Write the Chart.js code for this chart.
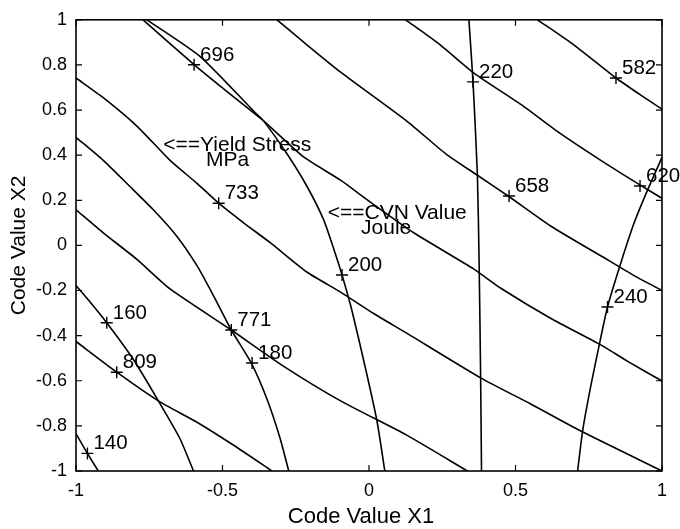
<!DOCTYPE html>
<html><head><meta charset="utf-8">
<script src="https://cdn.jsdelivr.net/npm/chart.js@4"></script>
<style>html,body{margin:0;padding:0;background:#fff}canvas{display:block}</style>
</head><body>
<canvas id="c" width="680" height="529"></canvas>
<script>
// ---- Yield stress contours (MPa), points as [X1, X2] ----
const yield582 = [[0.575,1],[0.700,0.888],[0.843,0.742],[0.930,0.664],[1,0.604]];
const yield620 = [[0.125,1],[0.244,0.888],[0.358,0.764],[0.518,0.625],[0.655,0.494],[0.791,0.377],[0.926,0.267],[1,0.209]];
const yield658 = [[-0.314,1],[-0.211,0.888],[-0.097,0.768],[0.130,0.55],[0.262,0.406],[0.370,0.311],[0.475,0.219],[0.621,0.085],[0.791,-0.046],[0.905,-0.134],[1,-0.2]];
const yield696 = [[-0.771,1],[-0.597,0.801],[-0.508,0.706],[-0.360,0.552],[-0.223,0.392],[-0.097,0.289],[-0.006,0.202],[0.153,0.056],[0.358,-0.105],[0.450,-0.19],[0.621,-0.324],[0.791,-0.441],[0.883,-0.514],[1,-0.601]];
const yield733 = [[-1,0.742],[-0.907,0.655],[-0.793,0.530],[-0.679,0.377],[-0.587,0.275],[-0.513,0.187],[-0.428,0.100],[-0.337,0.012],[-0.211,-0.119],[-0.097,-0.207],[0.016,-0.302],[0.130,-0.390],[0.381,-0.587],[0.552,-0.703],[0.723,-0.823],[1,-1]];
const yield771 = [[-1,0.158],[-0.907,0.056],[-0.793,-0.061],[-0.679,-0.193],[-0.470,-0.375],[-0.291,-0.536],[-0.097,-0.689],[0.130,-0.842],[0.336,-1]];
const yield809 = [[-1,-0.426],[-0.861,-0.562],[-0.719,-0.689],[-0.587,-0.784],[-0.462,-0.886],[-0.331,-1]];

// ---- CVN value contours (Joule) ----
const cvn140 = [[-1,-0.835],[-0.961,-0.922],[-0.924,-1]];
const cvn160 = [[-1,-0.178],[-0.952,-0.251],[-0.895,-0.343],[-0.804,-0.506],[-0.719,-0.689],[-0.645,-0.857],[-0.599,-1]];
const cvn180 = [[-1,0.479],[-0.907,0.377],[-0.815,0.260],[-0.736,0.158],[-0.656,0.041],[-0.587,-0.090],[-0.530,-0.225],[-0.470,-0.375],[-0.402,-0.521],[-0.348,-0.682],[-0.303,-0.857],[-0.274,-1]];
const cvn200 = [[-0.758,1],[-0.576,0.837],[-0.394,0.596],[-0.360,0.552],[-0.280,0.406],[-0.211,0.260],[-0.155,0.114],[-0.120,-0.017],[-0.092,-0.131],[-0.057,-0.295],[-0.006,-0.579],[0.028,-0.784],[0.054,-1]];
const cvn220 = [[0.341,1],[0.355,0.725],[0.370,0.311],[0.376,-0.09],[0.381,-0.587],[0.384,-1]];
const cvn240 = [[1,0.39],[0.951,0.246],[0.905,0.100],[0.860,-0.076],[0.814,-0.273],[0.786,-0.44],[0.757,-0.623],[0.729,-0.823],[0.712,-1]];

// ---- Contour labels ----
const labelText = ['582','620','658','696','733','771','809','140','160','180','200','220','240'];
const labelX = [0.843,0.925,0.478,-0.597,-0.513,-0.470,-0.861,-0.961,-0.895,-0.399,-0.092,0.355,0.814];
const labelY = [0.742,0.263,0.219,0.801,0.187,-0.375,-0.562,-0.922,-0.343,-0.521,-0.131,0.725,-0.273];

// ---- Annotation texts ----
const noteText = ['<==Yield Stress','MPa','<==CVN Value','Joule'];
const noteX = [-0.702,-0.556,-0.141,-0.027];
const noteY = [0.418,0.351,0.118,0.051];

// ---- Axes ----
const xTickValues = [-1,-0.5,0,0.5,1];
const xTickLabels = ['-1','-0.5','0','0.5','1'];
const yTickValues = [-1,-0.8,-0.6,-0.4,-0.2,0,0.2,0.4,0.6,0.8,1];
const yTickLabels = ['-1','-0.8','-0.6','-0.4','-0.2','0','0.2','0.4','0.6','0.8','1'];
const xTitle = 'Code Value X1';
const yTitle = 'Code Value X2';

const FONT = '"Liberation Sans", Arial, Helvetica, sans-serif';
const contours = [yield582,yield620,yield658,yield696,yield733,yield771,yield809,cvn140,cvn160,cvn180,cvn200,cvn220,cvn240];

const datasets = contours.map(c => ({
  data: c.map(p => ({x:p[0], y:p[1]})),
  showLine: true, borderColor: '#000', borderWidth: 1.6, pointRadius: 0,
  tension: 0.2, fill: false
}));
datasets.push({
  data: labelX.map((x,i) => ({x:x, y:labelY[i]})),
  showLine: false, pointStyle: 'cross', pointRadius: 6, borderColor: '#000',
  borderWidth: 1.4, backgroundColor: '#000'
});

const decor = {
  id: 'decor',
  beforeDraw(chart) {
    const ctx = chart.ctx;
    ctx.save(); ctx.fillStyle = '#fff'; ctx.fillRect(0,0,chart.width,chart.height); ctx.restore();
  },
  afterDraw(chart) {
    const ctx = chart.ctx, a = chart.chartArea, xs = chart.scales.x, ys = chart.scales.y;
    ctx.save();
    ctx.strokeStyle = '#000'; ctx.lineWidth = 1.6;
    ctx.strokeRect(a.left, a.top, a.right - a.left, a.bottom - a.top);
    ctx.lineWidth = 1.2;
    const TL = 6;
    ctx.beginPath();
    xTickValues.forEach(v => {
      const px = xs.getPixelForValue(v);
      ctx.moveTo(px, a.bottom); ctx.lineTo(px, a.bottom - TL);
      ctx.moveTo(px, a.top); ctx.lineTo(px, a.top + TL);
    });
    yTickValues.forEach(v => {
      const py = ys.getPixelForValue(v);
      ctx.moveTo(a.left, py); ctx.lineTo(a.left + TL, py);
      ctx.moveTo(a.right, py); ctx.lineTo(a.right - TL, py);
    });
    ctx.stroke();
    // contour labels
    ctx.fillStyle = '#000';
    ctx.font = '20.5px ' + FONT;
    ctx.textAlign = 'left'; ctx.textBaseline = 'alphabetic';
    labelText.forEach((t,i) => {
      ctx.fillText(t, xs.getPixelForValue(labelX[i]) + 6, ys.getPixelForValue(labelY[i]) - 4);
    });
    ctx.font = '21px ' + FONT;
    noteText.forEach((t,i) => {
      ctx.fillText(t, xs.getPixelForValue(noteX[i]), ys.getPixelForValue(noteY[i]));
    });
    // axis titles
    ctx.font = '22px ' + FONT;
    ctx.textAlign = 'center';
    ctx.fillText(xTitle, (a.left + a.right) / 2 - 8, a.bottom + 52);
    ctx.font = '21px ' + FONT;
    ctx.translate(25, (a.top + a.bottom) / 2);
    ctx.rotate(-Math.PI / 2);
    ctx.fillText(yTitle, 0, 0);
    ctx.restore();
  }
};

new Chart(document.getElementById('c'), {
  type: 'scatter',
  data: { datasets },
  options: {
    responsive: false, animation: false, devicePixelRatio: 1,
    layout: { padding: { top: 14, right: 18, left: 0, bottom: 0 } },
    plugins: { legend: { display: false }, tooltip: { enabled: false } },
    scales: {
      x: {
        type: 'linear', min: -1, max: 1,
        afterBuildTicks: s => { s.ticks = xTickValues.map(v => ({value: v})); },
        afterFit: s => { s.height = 58; },
        grid: { display: false, drawTicks: false },
        border: { display: false },
        ticks: {
          color: '#000', font: { family: FONT, size: 18 }, padding: 9, maxRotation: 0,
          callback: (v) => xTickLabels[xTickValues.indexOf(v)]
        }
      },
      y: {
        type: 'linear', min: -1, max: 1,
        afterBuildTicks: s => { s.ticks = yTickValues.map(v => ({value: v})); },
        afterFit: s => { s.width = 76; },
        grid: { display: false, drawTicks: false },
        border: { display: false },
        ticks: {
          color: '#000', font: { family: FONT, size: 18 }, padding: 9,
          callback: (v) => yTickLabels[yTickValues.indexOf(v)]
        }
      }
    }
  },
  plugins: [decor]
});
</script>
</body></html>
